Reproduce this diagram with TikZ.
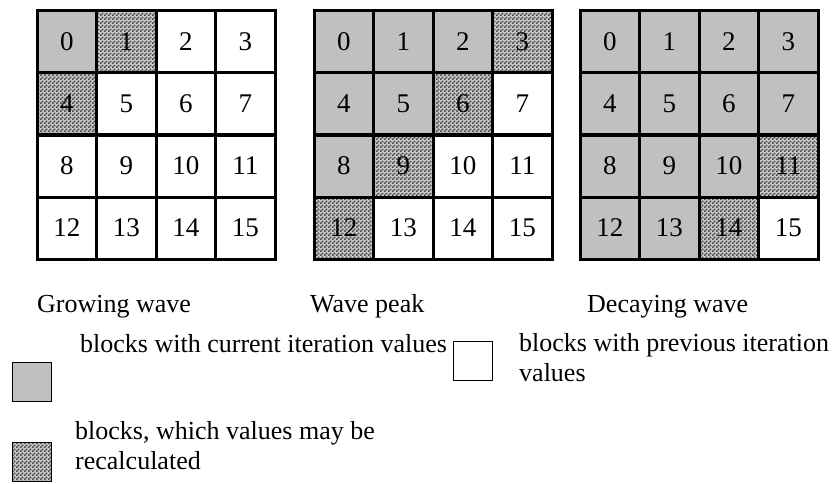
\documentclass[tikz,border=0pt]{standalone}
\usepackage{fontspec}
\setmainfont{Liberation Serif}
\usetikzlibrary{patterns}

\definecolor{curgray}{HTML}{C0C0C0}
\definecolor{checklight}{HTML}{C8C8C8}
\definecolor{checkdark}{HTML}{484848}

% fine 2x2 checkerboard for blocks that may be recalculated
\pgfdeclarepatternformonly{finechecker}{\pgfqpoint{0pt}{0pt}}{\pgfqpoint{4pt}{4pt}}{\pgfqpoint{4pt}{4pt}}{%
  \pgfpathrectangle{\pgfqpoint{0pt}{0pt}}{\pgfqpoint{2pt}{2pt}}%
  \pgfpathrectangle{\pgfqpoint{2pt}{2pt}}{\pgfqpoint{2pt}{2pt}}%
  \pgfusepath{fill}}

\tikzset{
  cell/.style={draw, line width=3pt, minimum width=59.5pt, minimum height=62pt, inner sep=0pt,
    font=\fontsize{27}{30}\selectfont},
  cur/.style={fill=curgray},
  prev/.style={fill=white},
  rec/.style={preaction={fill=checklight}, pattern=finechecker, pattern color=checkdark},
  legbox/.style={draw, line width=1.5pt, minimum size=39pt, inner sep=0pt},
  caption/.style={anchor=base west, inner sep=0pt, font=\fontsize{26}{30}\selectfont},
  legtext/.style={anchor=base west, inner sep=0pt, align=left, font=\fontsize{26}{30}\selectfont}
}

\begin{document}
\begin{tikzpicture}[x=1pt, y=-1pt]
\useasboundingbox (0,0) rectangle (832,484);

% growing wave
\foreach \n/\s in {0/cur,1/rec,2/prev,3/prev,4/rec,5/prev,6/prev,7/prev,
                   8/prev,9/prev,10/prev,11/prev,12/prev,13/prev,14/prev,15/prev} {
  \pgfmathsetmacro{\cx}{37 + 29.75 + 59.5*mod(\n,4)}
  \pgfmathsetmacro{\cy}{11 + 31 + 62*int(\n/4)}
  \node[cell, \s] (a\n) at (\cx,\cy) {\n};
}
% wave peak
\foreach \n/\s in {0/cur,1/cur,2/cur,3/rec,4/cur,5/cur,6/rec,7/prev,
                   8/cur,9/rec,10/prev,11/prev,12/rec,13/prev,14/prev,15/prev} {
  \pgfmathsetmacro{\cx}{314 + 29.75 + 59.5*mod(\n,4)}
  \pgfmathsetmacro{\cy}{11 + 31 + 62*int(\n/4)}
  \node[cell, \s] (b\n) at (\cx,\cy) {\n};
}
% decaying wave
\foreach \n/\s in {0/cur,1/cur,2/cur,3/cur,4/cur,5/cur,6/cur,7/cur,
                   8/cur,9/cur,10/cur,11/rec,12/cur,13/cur,14/rec,15/prev} {
  \pgfmathsetmacro{\cx}{580 + 29.75 + 59.5*mod(\n,4)}
  \pgfmathsetmacro{\cy}{11 + 31 + 62*int(\n/4)}
  \node[cell, \s] (c\n) at (\cx,\cy) {\n};
}

\node[caption] (growcap) at (37,312) {Growing wave};
\node[caption] (peakcap) at (310,312) {Wave peak};
\node[caption] (decaycap) at (587,312) {Decaying wave};

% legend (base of a two-line text is its last line)
\node[legbox, cur] (curbox) at (32,382) {};
\node[legtext] (curtext) at (80,352) {blocks with current iteration values};
\node[legbox, prev] (prevbox) at (473,361) {};
\node[legtext] (prevtext) at (519,381) {blocks with previous iteration\\values};
\node[legbox, rec] (recbox) at (32,462) {};
\node[legtext] (rectext) at (75,469) {blocks, which values may be\\recalculated};
\end{tikzpicture}
\end{document}
